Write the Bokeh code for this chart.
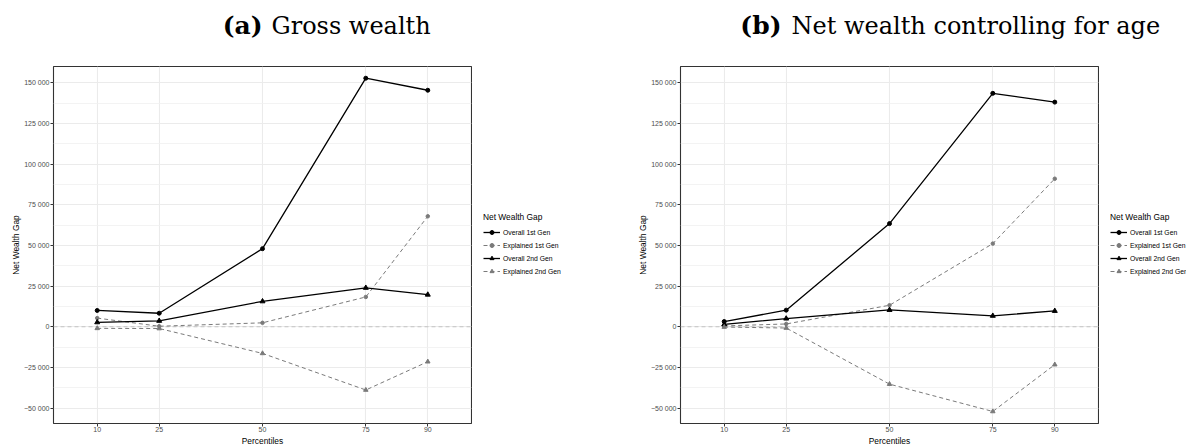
from bokeh.plotting import figure
from bokeh.layouts import row, column
from bokeh.models import Range1d, FixedTicker, Legend, LegendItem, Label, Span
from bokeh.embed import file_html
from bokeh.resources import INLINE

# ---------------- data ----------------
percentiles = [10, 25, 50, 75, 90]

y_ticks = [-50000, -25000, 0, 25000, 50000, 75000, 100000, 125000, 150000]
y_tick_labels = ["\u221250 000", "\u221225 000", "0", "25 000", "50 000",
                 "75 000", "100 000", "125 000", "150 000"]
y_minor_ticks = [-37500, -12500, 12500, 37500, 62500, 87500, 112500, 137500]

series_names = ["Overall 1st Gen", "Explained 1st Gen", "Overall 2nd Gen", "Explained 2nd Gen"]

gross_overall_1st = [10000, 8300, 48000, 152800, 145400]
gross_explained_1st = [5300, 300, 2400, 18300, 67900]
gross_overall_2nd = [2700, 3600, 15600, 23900, 19700]
gross_explained_2nd = [-1000, -1100, -16400, -38900, -21500]

net_overall_1st = [3200, 10200, 63400, 143500, 138100]
net_explained_1st = [500, 1700, 13200, 51100, 91000]
net_overall_2nd = [1400, 5000, 10300, 6700, 9700]
net_explained_2nd = [-200, -800, -35300, -52100, -23300]

panel_letters = ["(a)", "(b)"]
panel_titles = ["Gross wealth", "Net wealth controlling for age"]
legend_title = "Net Wealth Gap"
x_label = "Percentiles"
y_label = "Net Wealth Gap"

SANS = "Liberation Sans"
SERIF = "DejaVu Serif"
TITLE_H = 52
PANEL_H = 448 - TITLE_H

STYLES = [
    dict(color="black", dash="solid", lw=1.3, marker="circle", size=4),
    dict(color="#7a7a7a", dash="4 3", lw=1.0, marker="circle", size=3.5),
    dict(color="black", dash="solid", lw=1.3, marker="triangle", size=5),
    dict(color="#7a7a7a", dash="4 3", lw=1.0, marker="triangle", size=4.5),
]


def make_panel(values, width, left):
    p = figure(width=width, height=PANEL_H, output_backend="svg", toolbar_location=None,
               x_range=Range1d(-0.58, 100.58), y_range=Range1d(-59500, 160000),
               min_border_left=left, min_border_right=1, min_border_top=66 - TITLE_H,
               min_border_bottom=20)
    p.background_fill_color = "white"
    p.border_fill_color = "white"
    p.outline_line_color = "#333333"
    p.outline_line_width = 1.1

    p.xaxis.ticker = FixedTicker(ticks=percentiles)
    p.yaxis.ticker = FixedTicker(ticks=y_ticks, minor_ticks=y_minor_ticks)
    p.yaxis.major_label_overrides = {t: l for t, l in zip(y_ticks, y_tick_labels)}
    for ax in (p.xaxis[0], p.yaxis[0]):
        ax.axis_line_color = None
        ax.major_tick_line_color = "#333333"
        ax.major_tick_out = 3
        ax.major_tick_in = 0
        ax.minor_tick_line_color = None
        ax.major_label_text_font = SANS
        ax.major_label_text_font_size = "7px"
        ax.major_label_text_color = "#4d4d4d"
        ax.major_label_standoff = 0
        ax.axis_label_text_font = SANS
        ax.axis_label_text_font_size = "8.4px"
        ax.axis_label_text_font_style = "normal"
        ax.axis_label_text_color = "black"
        ax.axis_label_standoff = 1
    p.yaxis.major_label_standoff = 0
    p.yaxis.axis_label_standoff = 0
    p.xaxis.axis_label = x_label
    p.yaxis.axis_label = y_label

    p.xgrid.grid_line_color = "#ebebeb"
    p.xgrid.grid_line_width = 1.1
    p.ygrid.grid_line_color = "#ebebeb"
    p.ygrid.grid_line_width = 1.1
    p.ygrid.minor_grid_line_color = "#f0f0f0"
    p.ygrid.minor_grid_line_width = 0.8

    zero = Span(location=0, dimension="width", line_color="#c4c4c4",
                line_dash="4 3", line_width=1.2, level="underlay")
    p.add_layout(zero)

    for vals, st in zip(values, STYLES):
        p.line(percentiles, vals, line_color=st["color"], line_width=st["lw"],
               line_dash=st["dash"])
        p.scatter(percentiles, vals, marker=st["marker"], size=st["size"],
                  fill_color=st["color"], line_color=st["color"])
    return p


def make_legend(values, width):
    # legend-only canvas: the series are drawn outside its (empty) view so that only
    # the legend itself is visible
    lf = figure(width=width, height=PANEL_H, output_backend="svg", toolbar_location=None,
                x_axis_type=None, y_axis_type=None, min_border=0,
                x_range=Range1d(1000, 1001), y_range=Range1d(0, 1))
    lf.outline_line_color = None
    lf.background_fill_color = "white"
    lf.border_fill_color = "white"
    items = []
    for name, vals, st in zip(series_names, values, STYLES):
        lr = lf.line(percentiles, vals, line_color=st["color"], line_width=st["lw"],
                     line_dash=st["dash"])
        sr = lf.scatter(percentiles, vals, marker=st["marker"], size=st["size"],
                        fill_color=st["color"], line_color=st["color"])
        items.append(LegendItem(label=name, renderers=[lr, sr]))
    legend = Legend(items=items, location=(11, 147),
                    title=legend_title, title_text_font=SANS, title_text_font_size="8.4px",
                    title_text_font_style="normal", title_text_color="black",
                    title_standoff=5,
                    label_text_font=SANS, label_text_font_size="6.8px",
                    label_text_color="black",
                    label_standoff=3, label_height=10, glyph_height=10, glyph_width=17,
                    spacing=3, padding=0, margin=0,
                    border_line_alpha=0, background_fill_alpha=0)
    lf.add_layout(legend)
    return lf


# title strip
t = figure(width=1186, height=TITLE_H, output_backend="svg", toolbar_location=None,
           x_axis_type=None, y_axis_type=None, min_border=0,
           x_range=Range1d(0, 1186), y_range=Range1d(0, TITLE_H))
t.outline_line_color = None
title_pos = [(262, 271), (781, 791)]
TITLE_Y = 27
for letter, title, (xl, xt) in zip(panel_letters, panel_titles, title_pos):
    t.add_layout(Label(x=xl, y=TITLE_Y, x_units="screen", y_units="screen",
                       text=letter, text_font=SERIF, text_font_style="bold",
                       text_font_size="25px", text_align="right",
                       text_baseline="alphabetic", text_color="black"))
    t.add_layout(Label(x=xt, y=TITLE_Y, x_units="screen", y_units="screen",
                       text=title, text_font=SERIF, text_font_style="normal",
                       text_font_size="24px", text_align="left",
                       text_baseline="alphabetic", text_color="black"))

gross_values = [gross_overall_1st, gross_explained_1st, gross_overall_2nd, gross_explained_2nd]
net_values = [net_overall_1st, net_explained_1st, net_overall_2nd, net_explained_2nd]

pa = make_panel(gross_values, width=472, left=53)
la = make_legend(gross_values, 118)
pb = make_panel(net_values, width=509, left=90)
lb = make_legend(net_values, 87)

layout = column(t, row(pa, la, pb, lb, spacing=0), spacing=0)
open("out.html", "w").write(file_html(layout, INLINE))
